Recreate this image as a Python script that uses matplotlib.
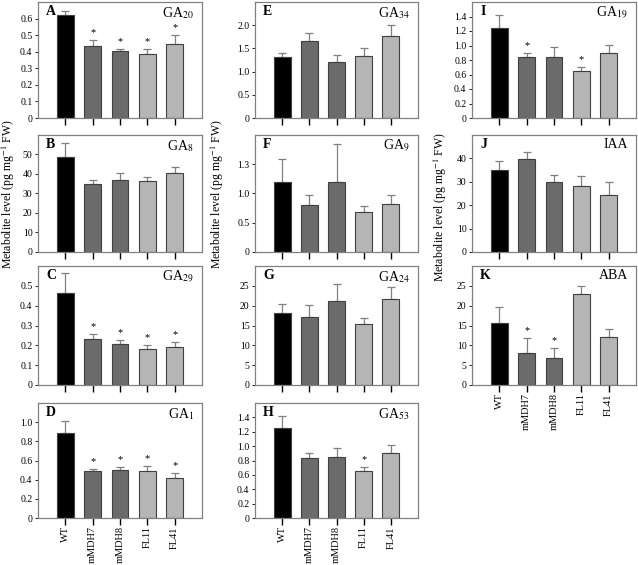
import matplotlib
matplotlib.use("Agg")
import matplotlib.pyplot as plt
import numpy as np

plt.rcParams['font.family'] = ['Liberation Serif', 'DejaVu Serif']
plt.rcParams['mathtext.fontset'] = 'stix'

# genotypes
lines = ["WT", "mMDH7", "mMDH8", "FL11", "FL41"]
bar_colors = ['#000000', '#6b6b6b', '#6b6b6b', '#b5b5b5', '#b5b5b5']

# mean values and upper error-bar tops for each metabolite
ga20 = [0.62, 0.432, 0.402, 0.388, 0.444]
ga20_top = [0.648, 0.468, 0.418, 0.414, 0.498]
ga8 = [48.6, 35.0, 37.1, 36.4, 40.3]
ga8_top = [56.0, 36.7, 40.5, 38.6, 43.8]
ga29 = [0.466, 0.231, 0.207, 0.183, 0.192]
ga29_top = [0.563, 0.255, 0.226, 0.200, 0.216]
ga1 = [0.89, 0.486, 0.503, 0.486, 0.417]
ga1_top = [1.017, 0.51, 0.534, 0.545, 0.466]
ga34 = [1.32, 1.663, 1.197, 1.34, 1.763]
ga34_top = [1.41, 1.828, 1.362, 1.505, 2.0]
ga9 = [1.2, 0.80, 1.2, 0.69, 0.817]
ga9_top = [1.594, 0.966, 1.84, 0.789, 0.966]
ga24 = [18.2, 17.1, 21.1, 15.3, 21.6]
ga24_top = [20.3, 20.1, 25.5, 16.9, 24.6]
ga53 = [1.25, 0.841, 0.85, 0.659, 0.905]
ga53_top = [1.418, 0.90, 0.977, 0.709, 1.018]
ga19 = [1.239, 0.835, 0.844, 0.647, 0.895]
ga19_top = [1.423, 0.895, 0.973, 0.702, 1.01]
iaa = [34.9, 39.7, 29.8, 28.4, 24.5]
iaa_top = [39.1, 42.7, 32.8, 32.3, 29.9]
aba = [15.7, 8.08, 6.87, 22.85, 12.1]
aba_top = [19.6, 11.86, 9.28, 24.9, 14.2]

# significance flags (asterisks)
sig_ga20 = [0, 1, 1, 1, 1]
sig_ga29 = [0, 1, 1, 1, 1]
sig_ga1 = [0, 1, 1, 1, 1]
sig_ga53 = [0, 0, 0, 1, 0]
sig_ga19 = [0, 1, 0, 1, 0]
sig_aba = [0, 1, 1, 0, 0]
no_sig = [0, 0, 0, 0, 0]

# y ticks per panel
ticks_01 = [0, 0.1, 0.2, 0.3, 0.4, 0.5, 0.6]
labels_01 = ['0', '0.1', '0.2', '0.3', '0.4', '0.5', '0.6']
ticks_10 = [0, 10, 20, 30, 40, 50]
labels_10 = ['0', '10', '20', '30', '40', '50']
ticks_c = [0, 0.1, 0.2, 0.3, 0.4, 0.5]
labels_c = ['0', '0.1', '0.2', '0.3', '0.4', '0.5']
ticks_02 = [0, 0.2, 0.4, 0.6, 0.8, 1.0]
labels_02 = ['0', '0.2', '0.4', '0.6', '0.8', '1.0']
ticks_05 = [0, 0.5, 1.0, 1.5, 2.0]
labels_05 = ['0', '0.5', '1.0', '1.5', '2.0']
ticks_f = [0, 0.5, 1.0, 1.5]
labels_f = ['0', '0.5', '1.0', '1.3']
ticks_5 = [0, 5, 10, 15, 20, 25]
labels_5 = ['0', '5', '10', '15', '20', '25']
ticks_14 = [0, 0.2, 0.4, 0.6, 0.8, 1.0, 1.2, 1.4]
labels_14 = ['0', '0.2', '0.4', '0.6', '0.8', '1.0', '1.2', '1.4']
ticks_j = [0, 10, 20, 30, 40]
labels_j = ['0', '10', '20', '30', '40']

W, H = 638, 565
fig = plt.figure(figsize=(W / 100, H / 100), dpi=100)


def px_axes(left, top, width, bottom):
    return fig.add_axes([left / W, 1 - bottom / H, width / W, (bottom - top) / H])


def panel(ax, vals, tops, sig, ymax, ticks, labels, letter, name, xlabels=False):
    x = np.arange(1, len(vals) + 1)
    vals = np.array(vals)
    errs = np.array(tops) - vals
    ax.bar(x, vals, width=0.62, color=bar_colors, edgecolor='#404040', linewidth=0.8, zorder=2)
    ax.errorbar(x, vals, yerr=[np.zeros_like(errs), errs], fmt='none',
                ecolor='#808080', elinewidth=0.9, capsize=3, capthick=0.9, zorder=1)
    for xi, t, s in zip(x, tops, sig):
        if s:
            ax.text(xi, t + ymax * 0.025, '*', ha='center', va='bottom', fontsize=7.5)
    ax.set_xlim(0, 6)
    ax.set_ylim(0, ymax)
    ax.set_yticks(ticks)
    ax.set_yticklabels(labels, fontsize=7)
    ax.set_xticks(x)
    if xlabels:
        ax.set_xticklabels(lines, rotation=90, fontsize=7.5)
    else:
        ax.set_xticklabels([])
    ax.tick_params(axis='x', length=5, width=1, direction='out', pad=1)
    ax.tick_params(axis='y', length=2, width=0.6, direction='out', pad=2)
    for sp in ax.spines.values():
        sp.set_color('#808080')
        sp.set_linewidth(0.9)
    ax.text(0.05, 0.975, letter, transform=ax.transAxes, ha='left', va='top',
            fontsize=10, fontweight='bold')
    ax.text(0.95, 0.975, name, transform=ax.transAxes, ha='right', va='top', fontsize=10)


col_x = [(38, 164), (255, 163), (472, 164)]
rows = [(2, 118), (135, 252), (266, 385), (403, 518)]

# column 1
ax = px_axes(col_x[0][0], rows[0][0], col_x[0][1], rows[0][1])
panel(ax, ga20, ga20_top, sig_ga20, 0.7, ticks_01, labels_01, 'A', r'GA$_{20}$')
ax = px_axes(col_x[0][0], rows[1][0], col_x[0][1], rows[1][1])
panel(ax, ga8, ga8_top, no_sig, 60, ticks_10, labels_10, 'B', r'GA$_{8}$')
ax = px_axes(col_x[0][0], rows[2][0], col_x[0][1], rows[2][1])
panel(ax, ga29, ga29_top, sig_ga29, 0.6, ticks_c, labels_c, 'C', r'GA$_{29}$')
ax = px_axes(col_x[0][0], rows[3][0], col_x[0][1], rows[3][1])
panel(ax, ga1, ga1_top, sig_ga1, 1.2, ticks_02, labels_02, 'D', r'GA$_{1}$', xlabels=True)

# column 2
ax = px_axes(col_x[1][0], rows[0][0], col_x[1][1], rows[0][1])
panel(ax, ga34, ga34_top, no_sig, 2.5, ticks_05, labels_05, 'E', r'GA$_{34}$')
ax = px_axes(col_x[1][0], rows[1][0], col_x[1][1], rows[1][1])
panel(ax, ga9, ga9_top, no_sig, 2.0, ticks_f, labels_f, 'F', r'GA$_{9}$')
ax = px_axes(col_x[1][0], rows[2][0], col_x[1][1], rows[2][1])
panel(ax, ga24, ga24_top, no_sig, 30, ticks_5, labels_5, 'G', r'GA$_{24}$')
ax = px_axes(col_x[1][0], rows[3][0], col_x[1][1], rows[3][1])
panel(ax, ga53, ga53_top, sig_ga53, 1.6, ticks_14, labels_14, 'H', r'GA$_{53}$', xlabels=True)

# column 3
ax = px_axes(col_x[2][0], rows[0][0], col_x[2][1], rows[0][1])
panel(ax, ga19, ga19_top, sig_ga19, 1.6, ticks_14, labels_14, 'I', r'GA$_{19}$')
ax = px_axes(col_x[2][0], rows[1][0], col_x[2][1], rows[1][1])
panel(ax, iaa, iaa_top, no_sig, 50, ticks_j, labels_j, 'J', 'IAA')
ax = px_axes(col_x[2][0], rows[2][0], col_x[2][1], rows[2][1])
panel(ax, aba, aba_top, sig_aba, 30, ticks_5, labels_5, 'K', 'ABA', xlabels=True)

ylab = r'Metabolite level (pg mg$^{-1}$ FW)'
fig.text(8 / W, 1 - 194 / H, ylab, rotation=90, ha='center', va='center', fontsize=8.5)
fig.text(217 / W, 1 - 194 / H, ylab, rotation=90, ha='center', va='center', fontsize=8.5)
fig.text(440 / W, 1 - 207 / H, ylab, rotation=90, ha='center', va='center', fontsize=8.5)

fig.savefig("out.png", dpi=100)
